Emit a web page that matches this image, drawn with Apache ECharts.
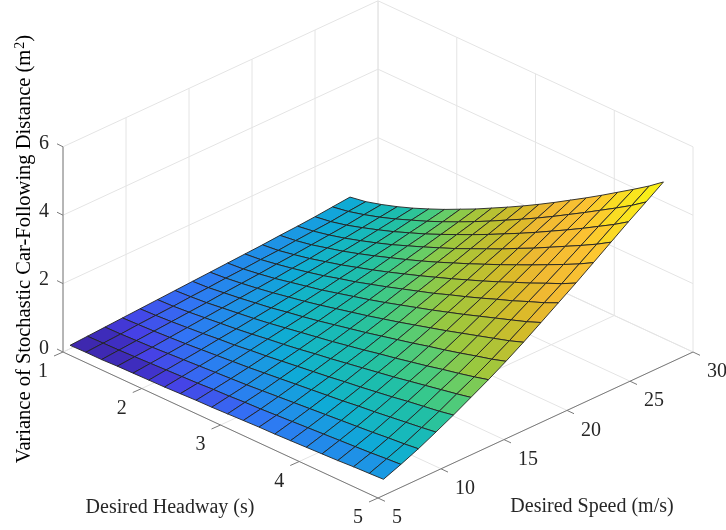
<!DOCTYPE html>
<html><head><meta charset="utf-8"><style>html,body{margin:0;background:#fff}#c{width:726px;height:530px}</style>
<script src="https://cdn.jsdelivr.net/npm/echarts@6/dist/echarts.min.js"></script></head>
<body><div id="c"></div><script>
const speeds=[5.56,6.94,8.33,9.72,11.11,12.5,13.89,15.28,16.67,18.06,19.44,20.83,22.22,23.61,25,26.39,27.78];
const headways=[1,1.2,1.4,1.6,1.8,2,2.2,2.4,2.6,2.8,3,3.2,3.4,3.6,3.8,4,4.2,4.4,4.6,4.8,4.98];
const variance=[
[.10,.11,.11,.13,.14,.15,.16,.18,.20,.21,.23,.25,.27,.28,.30,.32,.34,.36,.39,.41,.43],
[.13,.14,.15,.17,.19,.21,.23,.25,.28,.30,.33,.35,.38,.41,.44,.47,.50,.53,.56,.60,.63],
[.16,.17,.19,.21,.24,.27,.30,.33,.36,.39,.43,.47,.51,.55,.59,.63,.67,.71,.76,.80,.85],
[.19,.21,.23,.26,.29,.33,.37,.41,.45,.50,.55,.60,.65,.70,.75,.81,.86,.92,.98,1.04,1.10],
[.22,.24,.27,.31,.35,.40,.44,.50,.55,.61,.67,.73,.79,.86,.92,.99,1.06,1.14,1.21,1.28,1.36],
[.25,.27,.31,.36,.41,.46,.52,.59,.65,.72,.80,.87,.95,1.03,1.11,1.19,1.28,1.37,1.46,1.55,1.64],
[.28,.31,.35,.41,.47,.53,.60,.68,.76,.84,.92,1.01,1.10,1.20,1.29,1.39,1.49,1.60,1.70,1.81,1.92],
[.31,.34,.40,.46,.53,.60,.69,.77,.86,.96,1.06,1.16,1.27,1.38,1.49,1.61,1.72,1.84,1.97,2.09,2.22],
[.34,.38,.44,.51,.59,.68,.77,.87,.98,1.09,1.20,1.32,1.44,1.57,1.70,1.83,1.97,2.11,2.25,2.39,2.54],
[.37,.41,.48,.56,.66,.76,.86,.98,1.10,1.22,1.35,1.49,1.63,1.77,1.92,2.07,2.23,2.39,2.55,2.71,2.88],
[.40,.45,.53,.62,.72,.83,.96,1.08,1.22,1.36,1.51,1.66,1.81,1.98,2.14,2.31,2.49,2.66,2.85,3.03,3.22],
[.43,.48,.57,.67,.79,.91,1.05,1.19,1.34,1.50,1.66,1.83,2.00,2.18,2.36,2.55,2.75,2.94,3.15,3.35,3.56],
[.47,.53,.62,.74,.86,1.00,1.15,1.31,1.47,1.64,1.82,2.01,2.20,2.40,2.60,2.81,3.02,3.24,3.46,3.69,3.92],
[.50,.57,.67,.79,.93,1.08,1.24,1.42,1.60,1.79,1.98,2.19,2.40,2.61,2.84,3.06,3.30,3.54,3.78,4.03,4.28],
[.54,.61,.72,.86,1.01,1.17,1.35,1.53,1.73,1.94,2.15,2.37,2.60,2.83,3.07,3.32,3.57,3.83,4.10,4.37,4.64],
[.59,.67,.79,.93,1.09,1.27,1.45,1.65,1.86,2.08,2.31,2.55,2.79,3.04,3.30,3.57,3.84,4.12,4.40,4.69,4.98],
[.64,.72,.85,1.00,1.17,1.36,1.56,1.78,2.00,2.24,2.48,2.73,2.99,3.26,3.54,3.82,4.11,4.41,4.71,5.02,5.33]
];
const zStops=[0.10,0.16,0.2,0.3,0.4,0.5,0.64,0.8,1.1,1.3,1.6,1.9,2.3,2.7,3.1,3.9,4.4,5.33];
const stopColors=['#3e26a8','#3e2dbe','#4641e6','#3273f5','#2389eb','#1c96e4','#0faad7','#14b6c3','#1ebeaa','#37c88c','#64cd69','#9bc83e','#b9c132','#d7ba28','#f0b932','#fcc332','#fadc23','#f9f814'];
const speedTicks=[5,10,15,20,25,30], headwayTicks=[1,2,3,4,5], varTicks=[0,2,4,6];
const S0=5,S1=30,H0=1,H1=5,Z1=6;
function project(s,h,z){const ns=(s-S0)/(S1-S0),nh=(h-H0)/(H1-H0);return [ns+nh,ns-nh+z*34.2/146];}
function zColor(z){let k=0;while(k<zStops.length-2&&z>zStops[k+1])k++;const t=Math.min(1,Math.max(0,(z-zStops[k])/(zStops[k+1]-zStops[k])));return echarts.color.lerp(t,[stopColors[k],stopColors[k+1]]);}
const gridSegs=[],axisSegs=[];
varTicks.forEach(z=>{gridSegs.push([S0,H0,z,S1,H0,z],[S1,H0,z,S1,H1,z]);});
speedTicks.forEach(s=>{gridSegs.push([s,H0,0,s,H0,Z1],[s,H0,0,s,H1,0]);});
headwayTicks.forEach(h=>{gridSegs.push([S1,h,0,S1,h,Z1],[S0,h,0,S1,h,0]);});
axisSegs.push([S0,H0,0,S0,H0,Z1,0,0],[S0,H0,0,S0,H1,0,0,0],[S0,H1,0,S1,H1,0,0,0]);
varTicks.forEach(z=>axisSegs.push([S0,H0,z,S0,H0,z,-6,-3]));
headwayTicks.forEach(h=>axisSegs.push([S0,h,0,S0,h,0,-9,4]));
speedTicks.forEach(s=>axisSegs.push([s,H1,0,s,H1,0,7,3.3]));
const cells=[];
for(let i=speeds.length-2;i>=0;i--)for(let j=0;j<headways.length-1;j++)cells.push([speeds[i],speeds[i+1],headways[j],headways[j+1],variance[i][j],variance[i+1][j],variance[i+1][j+1],variance[i][j+1]]);
const labels=[];
varTicks.forEach(z=>labels.push([S0,H0,z,String(z),-14,-3.5,'right']));
headwayTicks.forEach(h=>labels.push([S0,h,0,String(h),-20,20,'center']));
speedTicks.forEach(s=>labels.push([s,H1,0,String(s),14,20,'left']));
const font='20px "Liberation Serif"',ink='#262626';
function segRender(color,w){return (p,api)=>{const a=api.coord(project(api.value(0),api.value(1),api.value(2))),b=api.coord(project(api.value(3),api.value(4),api.value(5)));const dx=api.value(6)||0,dy=api.value(7)||0;return {type:'line',shape:{x1:a[0],y1:a[1],x2:b[0]+dx,y2:b[1]+dy},style:{stroke:color,lineWidth:w,fill:null}};};}
const chart=echarts.init(document.getElementById('c'),null,{renderer:'canvas'});
chart.setOption({animation:false,
 grid:{left:63,right:33,top:2,bottom:32},
 xAxis:{type:'value',min:0,max:2,show:false},
 yAxis:{type:'value',min:-1,max:350/146,show:false},
 series:[
 {type:'custom',clip:false,silent:true,data:gridSegs,renderItem:segRender('#e4e4e4',1)},
 {type:'custom',clip:false,silent:true,data:axisSegs,renderItem:segRender('#7a7a7a',1)},
 {type:'custom',clip:false,silent:true,data:cells,renderItem:(p,api)=>{const v=[0,1,2,3,4,5,6,7].map(k=>api.value(k));const pts=[[v[0],v[2],v[4]],[v[1],v[2],v[5]],[v[1],v[3],v[6]],[v[0],v[3],v[7]]].map(q=>api.coord(project(q[0],q[1],q[2])));return {type:'polygon',shape:{points:pts},style:{fill:zColor((v[4]+v[5]+v[6]+v[7])/4),stroke:'#222222',lineWidth:0.9}};}},
 {type:'custom',clip:false,silent:true,data:labels.map(l=>l.slice(0,3)),renderItem:(p,api)=>{const l=labels[p.dataIndex],c=api.coord(project(l[0],l[1],l[2]));return {type:'text',style:{text:l[3],x:c[0]+l[4],y:c[1]+l[5],font:font,fill:ink,align:l[6],verticalAlign:'middle'}};}}
 ],
 graphic:[
 {type:'text',x:170,y:508,style:{text:'Desired Headway (s)',font:font,fill:ink,align:'center',verticalAlign:'middle'}},
 {type:'text',x:592,y:507,style:{text:'Desired Speed (m/s)',font:font,fill:ink,align:'center',verticalAlign:'middle'}},
 {type:'text',x:25,y:249,rotation:Math.PI/2,style:{text:'{a|Variance of Stochastic Car-Following Distance (m}{b|2}{a|)}',align:'center',verticalAlign:'middle',rich:{a:{fontFamily:'Liberation Serif',fontSize:20.5,color:ink},b:{fontFamily:'Liberation Serif',fontSize:14,color:ink,padding:[0,0,9,1]}}}}
 ]
});
</script></body></html>
